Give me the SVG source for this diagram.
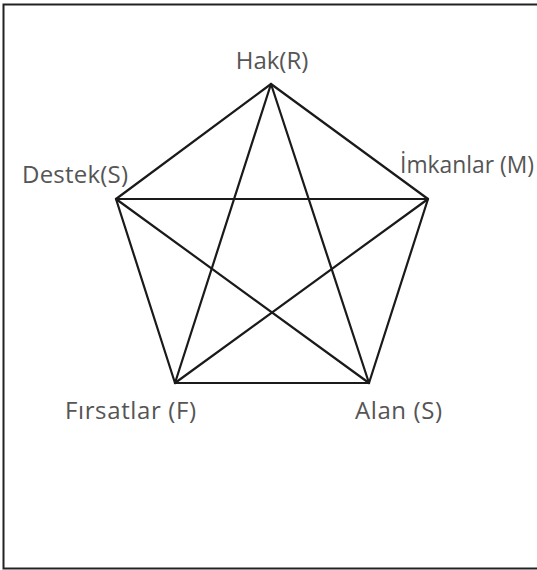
<svg xmlns="http://www.w3.org/2000/svg" width="537" height="570" viewBox="0 0 537 570">
<style>
.frame{fill:none;stroke:#222;stroke-width:2}
.edge{stroke:#1a1a1a;stroke-width:2.2;fill:none;stroke-linecap:round;stroke-linejoin:round}
.lbl{font-family:"Open Sans","Noto Sans",sans-serif;font-size:24px;fill:#555}
</style>
<rect class="frame" x="3.5" y="4.5" width="540" height="564"/>
<g id="connectors">
<polygon class="edge" points="271,84 428,199 369,383 175,383 116,199"/>
<line class="edge" x1="271" y1="84" x2="175" y2="383"/>
<line class="edge" x1="271" y1="84" x2="369" y2="383"/>
<line class="edge" x1="116" y1="199" x2="428" y2="199"/>
<line class="edge" x1="116" y1="199" x2="369" y2="383"/>
<line class="edge" x1="428" y1="199" x2="175" y2="383"/>
</g>
<g id="node-hak"><text class="lbl" x="272" y="69" text-anchor="middle">Hak(R)</text></g>
<g id="node-destek"><text class="lbl" x="22" y="183" textLength="106">Destek(S)</text></g>
<g id="node-imkanlar"><text class="lbl" x="400" y="173" style="font-size:23px" textLength="134" lengthAdjust="spacingAndGlyphs">İmkanlar (M)</text></g>
<g id="node-firsatlar"><text class="lbl" x="65" y="419" textLength="131">Fırsatlar (F)</text></g>
<g id="node-alan"><text class="lbl" x="355" y="419" textLength="87">Alan (S)</text></g>
</svg>
